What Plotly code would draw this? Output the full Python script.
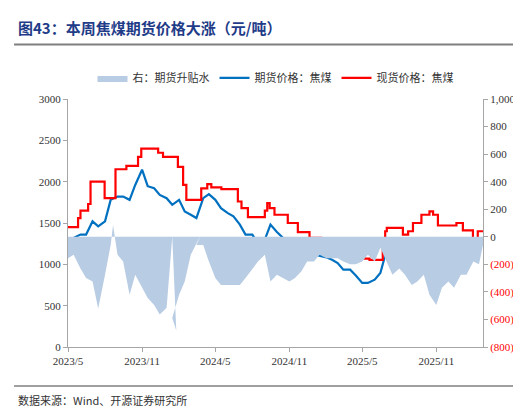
import plotly.graph_objects as go
import pandas as pd

# Futures price (left axis), semi-monthly
fut_dates = pd.date_range("2023-05-01", periods=68, freq="SMS").strftime("%Y-%m-%d").tolist() + ["2026-02-25"]
fut_vals = [1270,1320,1360,1360,1520,1460,1520,1780,1820,1820,1780,1960,2145,1945,1920,1840,
            1800,1720,1780,1640,1600,1560,1800,1850,1780,1680,1620,1580,1480,1360,1360,1245,
            1300,1480,1390,1320,1245,1160,1140,1140,1120,1100,1085,1055,1015,935,935,865,
            775,775,815,895,1180,1285,1160,1180,1240,1160,1280,1270,1160,1075,1115,1115,
            1200,1140,1140,1200,1300]

# Spot price (left axis), step changes
spot_dates = ["2023-05-01","2023-05-26","2023-06-01","2023-06-20","2023-06-26","2023-07-31","2023-08-27",
              "2023-09-23","2023-10-22","2023-10-30","2023-12-11","2023-12-23","2024-01-29","2024-02-11",
              "2024-02-19","2024-03-27","2024-04-11","2024-04-21","2024-05-16","2024-06-26","2024-07-05",
              "2024-07-21","2024-09-01","2024-09-07","2024-09-13","2024-09-25","2024-10-28","2024-11-22",
              "2024-12-21","2025-01-19","2025-02-26","2025-03-10","2025-04-20","2025-05-07","2025-05-19",
              "2025-06-21","2025-06-27","2025-07-01","2025-08-10","2025-08-23","2025-09-04","2025-09-25",
              "2025-10-15","2025-10-24","2025-11-05","2025-12-21","2026-01-06","2026-01-31","2026-02-12",
              "2026-02-25"]
spot_vals = [1450,1560,1650,1730,2000,1800,2150,2190,2300,2400,2350,2300,2180,1960,1780,1920,1970,
             1930,1910,1760,1680,1570,1650,1740,1680,1600,1500,1390,1320,1190,1150,1190,1150,1070,
             1055,1170,1400,1440,1360,1400,1500,1600,1640,1600,1470,1500,1410,1310,1400,1400]

# Basis (right axis)
basis_dates = fut_dates[:8] + ["2023-08-21"] + fut_dates[8:17] + ["2024-01-15","2024-01-25"] + \
              fut_dates[17:21] + ["2024-03-26"] + fut_dates[21:]
basis_vals = [-155,-130,-230,-300,-325,-520,-275,-60, 85, -130,-180,-420,-275,-370,-445,-495,-565,-515,
              0,-680, -590,-420,-325,-130, 15, -60,-60,-180,-300,-350,-350,-350,-350,-300,-230,-180,
              -130,-325,-275,-300,-325,-300,-250,-180,-180,-130,-155,-155,-155,-180,-200,-200,-180,
              -130,-180,-80,-180,-275,-230,-275,-350,-325,-275,-420,-495,-370,-325,-370,-275,-275,
              -180,-200,-60]

xtick_vals = ["2023-05-01","2023-11-01","2024-05-01","2024-11-01","2025-05-01","2025-11-01"]
xtick_text = ["2023/5","2023/11","2024/5","2024/11","2025/5","2025/11"]
y2_vals = [1000,800,600,400,200,0,-200,-400,-600,-800]
y2_text = ["1,000","800","600","400","200","0",
           "<span style='color:red'>(200)</span>","<span style='color:red'>(400)</span>",
           "<span style='color:red'>(600)</span>","<span style='color:red'>(800)</span>"]

cjk = "Noto Sans CJK SC"
serif = "Liberation Serif"

fig = go.Figure()
fig.add_trace(go.Scatter(x=basis_dates, y=basis_vals, name="右：期货升贴水", yaxis="y2",
                         mode="lines", line=dict(width=0, color="#B8CCE4"), fill="tozeroy",
                         fillcolor="#B8CCE4"))
fig.add_trace(go.Scatter(x=fut_dates, y=fut_vals, name="期货价格：焦煤", mode="lines",
                         line=dict(color="#0070C0", width=2.2)))
fig.add_trace(go.Scatter(x=spot_dates, y=spot_vals, name="现货价格：焦煤", mode="lines",
                         line=dict(color="#FF0000", width=2.2, shape="hv")))

axis_common = dict(showgrid=False, zeroline=False, showline=True, linecolor="#A6A6A6",
                   ticks="outside", tickcolor="#A6A6A6", ticklen=4,
                   tickfont=dict(family=serif, size=11, color="#333"))
fig.update_layout(
    width=521, height=408, paper_bgcolor="white", plot_bgcolor="white",
    margin=dict(l=60, r=46, t=91, b=69),
    xaxis=dict(range=["2023-05-01","2026-02-25"], tickvals=xtick_vals, ticktext=xtick_text, **axis_common),
    yaxis=dict(range=[0,3000], tickvals=[0,500,1000,1500,2000,2500,3000], **axis_common),
    yaxis2=dict(range=[-800,1000], overlaying="y", side="right", tickvals=y2_vals, ticktext=y2_text,
                **axis_common),
    showlegend=True,
    legend=dict(orientation="h", x=0.5, xanchor="center", y=1.085, yanchor="middle",
                font=dict(family=cjk, size=11, color="#333"), itemwidth=30, traceorder="normal"),
)
fig.add_annotation(text="<b>图43：本周焦煤期货价格大涨（元/吨）</b>", xref="paper", yref="paper",
                   x=-0.125, y=1.29, xanchor="left", yanchor="middle", showarrow=False,
                   font=dict(family=cjk, size=15, color="#1F3C88"))
fig.add_shape(type="line", xref="paper", yref="paper", x0=-0.13, x1=1.10, y0=1.22, y1=1.22,
              line=dict(color="#7F7F7F", width=2))
fig.add_shape(type="line", xref="paper", yref="paper", x0=-0.13, x1=1.10, y0=-0.157, y1=-0.157,
              line=dict(color="#7F7F7F", width=1.5))
fig.add_annotation(text="数据来源：Wind、开源证券研究所", xref="paper", yref="paper",
                   x=-0.125, y=-0.214, xanchor="left", yanchor="middle", showarrow=False,
                   font=dict(family=cjk, size=11, color="#333"))
fig.write_html("out.html")
